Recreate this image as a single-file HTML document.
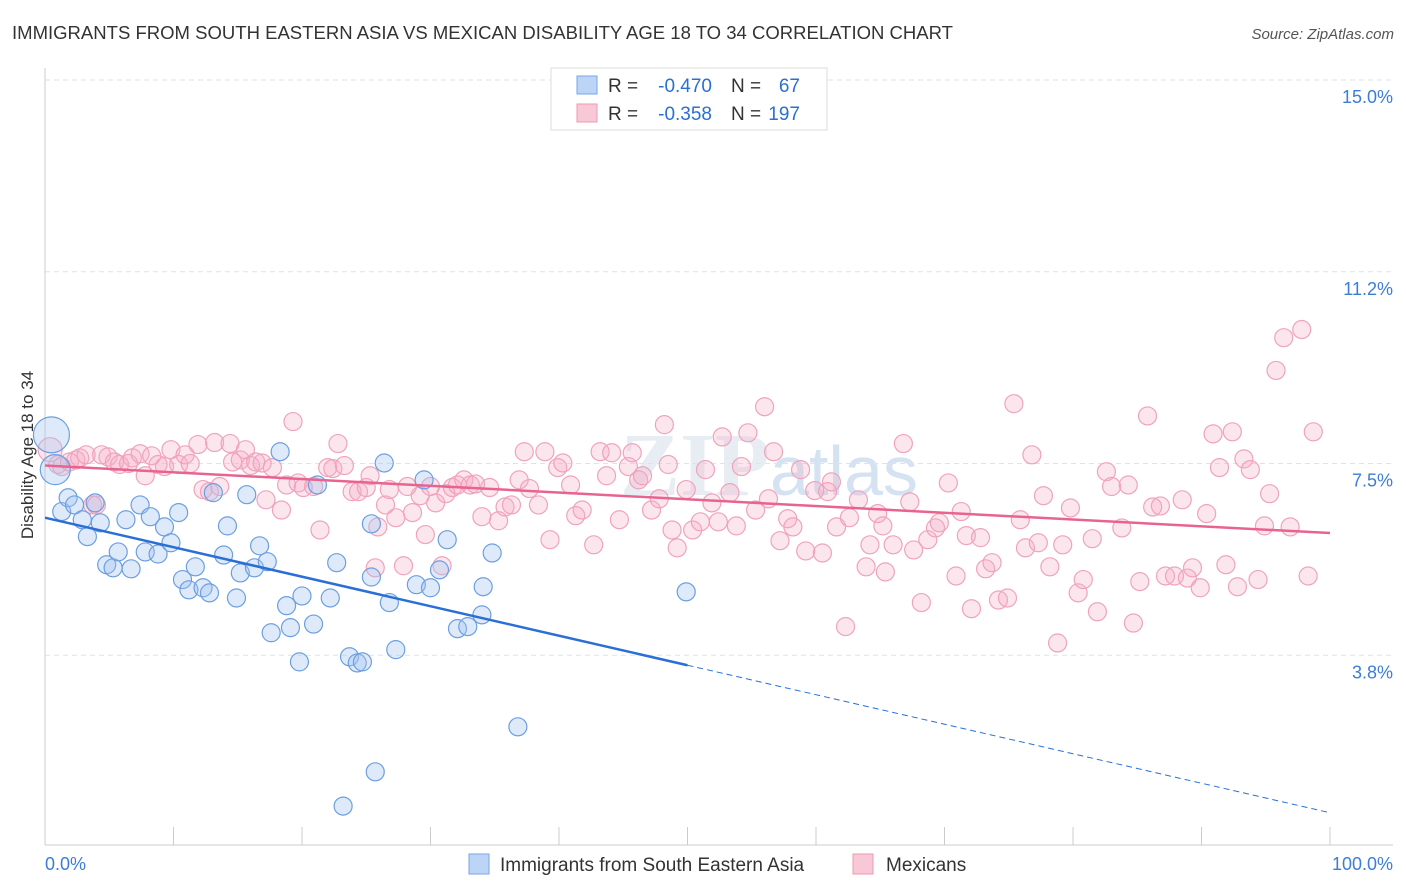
<!DOCTYPE html>
<html><head><meta charset="utf-8">
<style>
body{margin:0;background:#fff;font-family:"Liberation Sans",sans-serif;}
#wrap{position:relative;width:1406px;height:892px;overflow:hidden;}
</style></head>
<body>
<div id="wrap">
<svg id="svg" width="1406" height="892" xmlns="http://www.w3.org/2000/svg">
<text x="12" y="39" font-size="18" fill="#333" textLength="941" lengthAdjust="spacingAndGlyphs">IMMIGRANTS FROM SOUTH EASTERN ASIA VS MEXICAN DISABILITY AGE 18 TO 34 CORRELATION CHART</text>
<text x="1394" y="39" font-size="15" fill="#555" font-style="italic" text-anchor="end">Source: ZipAtlas.com</text>
<text x="620" y="495" font-size="90" fill="#e8edf3" font-weight="bold" font-family="Liberation Serif,serif">ZIP<tspan font-family="Liberation Sans,sans-serif" font-weight="normal" fill="#d5e2f2" font-size="70">atlas</tspan></text>
<g id="grid"></g><g id="axes"></g><g id="marks"></g>
<text transform="translate(33,455) rotate(-90)" font-size="17" fill="#333" text-anchor="middle">Disability Age 18 to 34</text>
<g>
<rect x="551" y="68" width="276" height="62" fill="#fff" stroke="#ddd"/>
<rect x="577" y="76" width="20" height="18" fill="#bcd4f6" stroke="#7aa6e6"/>
<text x="608" y="92" font-size="19" fill="#333">R =</text>
<text x="712" y="92" font-size="19" fill="#2a6fd6" text-anchor="end">-0.470</text>
<text x="731" y="92" font-size="19" fill="#333">N =</text>
<text x="800" y="92" font-size="19" fill="#2a6fd6" text-anchor="end">67</text>
<rect x="577" y="104" width="20" height="18" fill="#f9c8d6" stroke="#ec9ab4"/>
<text x="608" y="120" font-size="19" fill="#333">R =</text>
<text x="712" y="120" font-size="19" fill="#2a6fd6" text-anchor="end">-0.358</text>
<text x="731" y="120" font-size="19" fill="#333">N =</text>
<text x="800" y="120" font-size="19" fill="#2a6fd6" text-anchor="end">197</text>
</g>
<g>
<rect x="469" y="854" width="20" height="20" fill="#bcd4f6" stroke="#7aa6e6"/>
<text x="500" y="871" font-size="19" fill="#333">Immigrants from South Eastern Asia</text>
<rect x="853" y="854" width="20" height="20" fill="#f9c8d6" stroke="#ec9ab4"/>
<text x="886" y="871" font-size="19" fill="#333">Mexicans</text>
</g>
</svg>
</div>
<script>
const yTicks=[15.0,11.25,7.5,3.75];
const yTickLabels=["15.0%","11.2%","7.5%","3.8%"];
const xTickLabels=["0.0%","100.0%"];
const blueX=[0.5,0.8,1.3,1.8,2.3,2.9,3.3,3.9,4.3,4.8,5.3,5.7,6.3,6.7,7.4,7.8,8.2,8.8,9.3,9.8,10.4,10.7,11.2,11.7,12.3,12.8,13.1,14.2,13.9,14.9,15.2,15.7,16.3,16.7,17.3,17.6,18.3,18.8,19.1,19.8,20.0,20.9,21.2,22.2,22.7,23.2,23.7,24.3,24.7,25.4,25.7,25.4,26.4,26.8,27.3,28.9,29.5,30.0,30.7,31.3,32.1,32.9,34.0,34.1,34.8,36.8,49.9];
const blueY=[8.06,7.38,6.56,6.83,6.69,6.40,6.07,6.73,6.34,5.52,5.46,5.77,6.40,5.44,6.69,5.77,6.46,5.73,6.26,5.95,6.54,5.23,5.03,5.48,5.07,4.97,6.93,6.28,5.71,4.87,5.36,6.89,5.46,5.89,5.58,4.19,7.73,4.72,4.29,3.62,4.91,4.36,7.08,4.87,5.56,0.80,3.72,3.60,3.62,5.28,1.47,6.32,7.51,4.78,3.86,5.13,7.18,5.07,5.42,6.01,4.27,4.31,4.54,5.09,5.75,2.35,4.99];
const pinkX=[0.4,1.0,1.3,1.9,2.4,2.7,3.2,3.7,4.0,4.4,4.9,5.4,5.8,6.5,6.8,7.4,7.8,8.3,8.8,9.3,9.8,10.4,10.9,11.3,11.9,12.3,12.8,13.2,13.6,14.4,14.6,15.2,15.6,16.0,16.4,16.9,17.2,17.7,18.4,19.3,18.8,19.7,20.1,20.9,21.4,22.0,22.4,22.8,23.3,23.9,24.4,25.0,25.3,25.7,25.9,26.5,26.8,27.3,27.9,28.2,28.6,29.2,29.6,30.0,30.4,30.9,31.2,31.7,32.1,32.6,33.1,33.5,34.0,34.6,35.3,35.8,36.3,36.9,37.3,37.7,38.4,38.9,39.3,39.9,40.3,40.9,41.3,41.8,42.7,43.2,43.7,44.1,44.7,45.4,45.7,46.2,46.5,47.2,47.8,48.2,48.5,48.8,49.2,49.9,50.4,51.0,51.4,51.9,52.4,52.7,53.3,53.8,54.2,54.7,55.3,56.0,56.3,56.7,57.2,57.8,58.2,58.8,59.2,59.9,60.5,60.9,61.2,61.6,62.3,62.6,63.3,63.9,64.2,64.8,65.2,65.4,66.0,66.8,67.3,67.6,68.2,68.7,69.3,69.6,70.3,70.9,71.3,71.7,72.1,72.8,73.2,73.7,74.2,74.9,75.4,75.9,76.3,76.8,77.3,77.7,78.2,78.8,79.2,79.8,80.4,80.8,81.5,81.9,82.6,83.0,83.8,84.3,84.7,85.2,85.8,86.2,86.8,87.2,87.9,88.5,88.9,89.3,89.9,90.4,90.9,91.4,91.9,92.4,92.8,93.3,93.8,94.4,94.9,95.3,95.8,96.4,96.9,97.8,98.3,98.7];
const pinkY=[7.77,7.48,7.44,7.53,7.57,7.61,7.67,6.69,6.69,7.67,7.63,7.53,7.48,7.50,7.61,7.69,7.26,7.65,7.48,7.44,7.77,7.48,7.67,7.50,7.87,6.99,6.95,7.91,7.05,7.89,7.53,7.57,7.77,7.46,7.53,7.51,6.79,7.42,6.59,8.32,7.08,7.12,7.03,7.05,6.20,7.42,7.40,7.89,7.46,6.95,6.95,7.03,7.26,5.46,6.26,6.69,6.99,6.44,5.50,7.05,6.54,6.87,6.11,7.05,6.73,5.50,6.91,7.03,7.08,7.18,7.08,7.10,6.46,7.03,6.38,6.65,6.69,7.18,7.73,7.01,6.69,7.73,6.01,7.42,7.51,7.08,6.48,6.59,5.91,7.73,7.26,7.71,6.40,7.44,7.71,7.18,7.26,6.59,6.81,8.26,7.48,6.20,5.85,6.99,6.20,6.36,7.38,6.73,6.36,8.02,6.93,6.28,7.44,8.10,6.59,8.61,6.81,7.73,5.99,6.42,6.26,7.38,5.79,6.97,5.75,6.95,7.14,6.26,4.31,6.44,6.79,5.48,5.91,6.52,6.28,5.38,5.91,7.89,6.75,5.81,4.78,6.01,6.24,6.34,7.12,5.30,6.56,6.09,4.66,6.05,5.44,5.56,4.83,4.87,8.67,6.40,5.85,7.67,5.95,6.87,5.48,3.99,5.91,6.63,4.97,5.23,6.03,4.60,7.34,7.05,6.24,7.08,4.38,5.19,8.43,6.65,6.67,5.30,5.30,6.79,5.26,5.46,5.07,6.52,8.08,7.42,5.52,8.12,5.09,7.59,7.38,5.23,6.28,6.91,9.32,9.96,6.26,10.12,5.30,8.12];
const blueFit=[6.44,-0.0577]; // intercept, slope
const pinkFit=[7.46,-0.0132];
const NS="http://www.w3.org/2000/svg";
const X0=45,X1=1330,YT=80,YB=847,YMAX=15;
function sx(v){return X0+(X1-X0)*v/100;}
function sy(v){return YB-(YB-YT)*v/YMAX;}
function mk(tag,attrs,parent){const e=document.createElementNS(NS,tag);for(const k in attrs)e.setAttribute(k,attrs[k]);document.getElementById(parent).appendChild(e);return e;}
yTicks.forEach((t,i)=>{
 const l=mk('line',{x1:X0,x2:1393,y1:sy(t),y2:sy(t),stroke:'#dde3ea','stroke-dasharray':'5,4'},'grid');
 
 
 const tx=mk('text',{x:1393,y:sy(t)+23,'font-size':18,fill:'#3b7dd8','text-anchor':'end'},'grid');
 tx.textContent=yTickLabels[i];
 
 
});
mk('line',{x1:X0,x2:X0,y1:68,y2:845,stroke:'#ccc'},'axes');
mk('line',{x1:X0,x2:1393,y1:845,y2:845,stroke:'#ccc'},'axes');
for(let i=0;i<=10;i++){const t=mk('line',{x1:sx(i*10),x2:sx(i*10),y1:827,y2:845,stroke:'#ccc'},'axes');}
[[0,'start',45],[100,'end',1393]].forEach((p,i)=>{const t=mk('text',{x:p[2],y:870,'font-size':18,fill:'#3b7dd8','text-anchor':p[1]},'axes');t.textContent=xTickLabels[i];});
pinkX.forEach((x,i)=>{const c=mk('circle',{cx:sx(x),cy:sy(pinkY[i]),r:i==0?12:9,fill:'rgba(246,172,198,0.3)',stroke:'#f0a3bb','stroke-width':1.2},'marks');});
blueX.forEach((x,i)=>{const c=mk('circle',{cx:sx(x),cy:sy(blueY[i]),r:i==0?18:(i==1?15:9),fill:'rgba(160,196,242,0.35)',stroke:'#6c9fe0','stroke-width':1.2},'marks');});
const pl=mk('line',{x1:sx(0),y1:sy(pinkFit[0]),x2:sx(100),y2:sy(pinkFit[0]+pinkFit[1]*100),stroke:'#e8648f','stroke-width':2.5},'marks');

const bl=mk('line',{x1:sx(0),y1:sy(blueFit[0]),x2:sx(50),y2:sy(blueFit[0]+blueFit[1]*50),stroke:'#2a6fd6','stroke-width':2.5},'marks');

const bd=mk('line',{x1:sx(50),y1:sy(blueFit[0]+blueFit[1]*50),x2:sx(100),y2:sy(blueFit[0]+blueFit[1]*100),stroke:'#2a6fd6','stroke-width':1,'stroke-dasharray':'6,4'},'marks');

</script>
</body></html>
